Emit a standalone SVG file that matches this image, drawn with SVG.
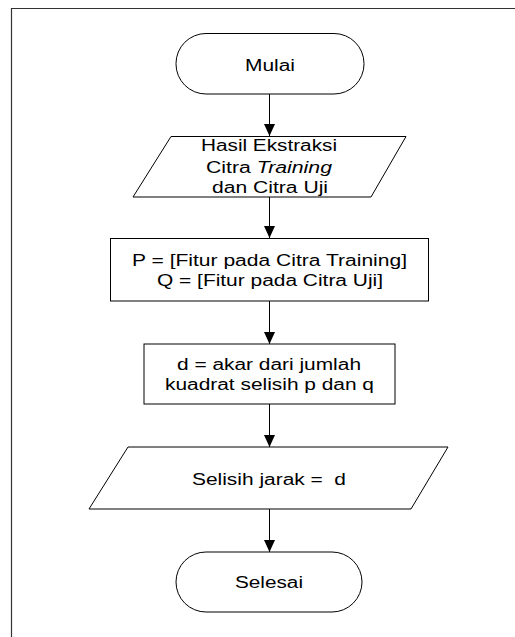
<svg xmlns="http://www.w3.org/2000/svg" width="515" height="637" viewBox="0 0 515 637">
  <style>
    .shape { fill: #ffffff; stroke: #000000; stroke-width: 1; }
    .edge { fill: none; stroke: #000000; stroke-width: 1; }
    .label { font-family: "Liberation Sans", Arial, sans-serif; font-size: 16px; fill: #000000; text-anchor: middle; }
  </style>
  <defs>
    <marker id="arrow" markerWidth="12" markerHeight="11" refX="12" refY="5.5" orient="auto" markerUnits="userSpaceOnUse">
      <path d="M0,0 L12,5.5 L0,11 Z" fill="#000000"/>
    </marker>
  </defs>
  <rect x="0" y="0" width="515" height="637" fill="#ffffff"/>
  <!-- page frame -->
  <path d="M11.5,637 L11.5,8.5 L515,8.5" fill="none" stroke="#333333" stroke-width="1.2"/>

  <g id="connectors">
    <line class="edge" x1="269.5" y1="94" x2="269.5" y2="136" marker-end="url(#arrow)"/>
    <line class="edge" x1="269.5" y1="197" x2="269.5" y2="238" marker-end="url(#arrow)"/>
    <line class="edge" x1="269.5" y1="301" x2="269.5" y2="344" marker-end="url(#arrow)"/>
    <line class="edge" x1="269.5" y1="404" x2="269.5" y2="447" marker-end="url(#arrow)"/>
    <line class="edge" x1="269.5" y1="509" x2="269.5" y2="552" marker-end="url(#arrow)"/>
  </g>

  <g id="mulai">
    <rect class="shape" x="176" y="33.5" width="188" height="60.5" rx="30" ry="30"/>
    <text class="label" x="270" y="70.5" textLength="50" lengthAdjust="spacingAndGlyphs">Mulai</text>
  </g>

  <g id="input-ekstraksi">
    <polygon class="shape" points="171,136.5 406,136.5 371,197 133,197"/>
    <text class="label" x="269" y="151" textLength="136" lengthAdjust="spacingAndGlyphs">Hasil Ekstraksi</text>
    <text class="label" x="269" y="172.5" textLength="126" lengthAdjust="spacingAndGlyphs">Citra <tspan font-style="italic">Training</tspan></text>
    <text class="label" x="270" y="192.5" textLength="116" lengthAdjust="spacingAndGlyphs">dan Citra Uji</text>
  </g>

  <g id="fitur">
    <rect class="shape" x="110.5" y="238.5" width="318" height="62.5"/>
    <text class="label" x="269.5" y="265.5" textLength="275" lengthAdjust="spacingAndGlyphs">P = [Fitur pada Citra Training]</text>
    <text class="label" x="270" y="286" textLength="226" lengthAdjust="spacingAndGlyphs">Q = [Fitur pada Citra Uji]</text>
  </g>

  <g id="hitung-d">
    <rect class="shape" x="144" y="344" width="251" height="60"/>
    <text class="label" x="269" y="369.5" textLength="184" lengthAdjust="spacingAndGlyphs">d = akar dari jumlah</text>
    <text class="label" x="269.5" y="390" textLength="209" lengthAdjust="spacingAndGlyphs">kuadrat selisih p dan q</text>
  </g>

  <g id="output-jarak">
    <polygon class="shape" points="128,447 448,447 411,509 89,509"/>
    <text class="label" x="269" y="484.5" xml:space="preserve" textLength="154" lengthAdjust="spacingAndGlyphs">Selisih jarak =  d</text>
  </g>

  <g id="selesai">
    <rect class="shape" x="176" y="552" width="186" height="60" rx="30" ry="30"/>
    <text class="label" x="269" y="588" textLength="68" lengthAdjust="spacingAndGlyphs">Selesai</text>
  </g>
</svg>
